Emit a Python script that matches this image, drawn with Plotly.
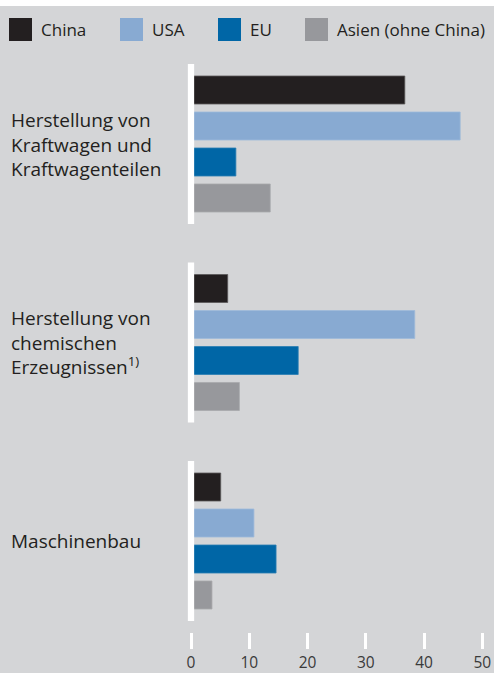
import plotly.graph_objects as go

# ---- data ----
categories = [
    "Herstellung von<br>Kraftwagen und<br>Kraftwagenteilen",
    "Herstellung von<br>chemischen<br>Erzeugnissen<sup>1)</sup>",
    "Maschinenbau",
]
series_names = ["China", "USA", "EU", "Asien (ohne China)"]
china = [36.7, 6.3, 5.1]
usa = [46.2, 38.4, 10.8]
eu = [7.7, 18.4, 14.6]
asien = [13.6, 8.3, 3.6]
x_ticks = [0, 10, 20, 30, 40, 50]

series_values = [china, usa, eu, asien]
colors = ["#231f20", "#88aad2", "#0066a6", "#97989c"]
outline = ["#5a5859", "#9dbadb", "#2a7db2", "#a8a9ac"]

W, H = 494, 673
L, R, T, B = 185, 0, 60, 41
PW, PH = W - L - R, H - T - B
BG = "#d4d5d7"
TXT = "#231f20"
FONT = "Open Sans, Noto Sans, sans-serif"


def px_x(p):
    return (p - L) / PW


def px_y(p):
    return (H - B - p) / PH


fig = go.Figure()
for name, vals, c, oc in zip(series_names, series_values, colors, outline):
    fig.add_trace(go.Bar(
        name=name, y=categories, x=vals, orientation="h",
        marker=dict(color=c, line=dict(color=oc, width=0.8)),
        showlegend=False,
    ))

shapes = []
# top white strip
shapes.append(dict(type="rect", xref="paper", yref="paper",
                   x0=px_x(0), x1=px_x(W), y0=px_y(6), y1=px_y(0),
                   fillcolor="white", line=dict(width=0), layer="below"))
# white axis segments per group
for i in range(len(categories)):
    shapes.append(dict(type="line", xref="x", yref="y",
                       x0=0, x1=0, y0=i - 0.403, y1=i + 0.403,
                       line=dict(color="white", width=6.3), layer="above"))

annotations = []
# legend (manual)
leg_sq_x = [9, 120, 218, 305]
for name, c, sx in zip(series_names, colors, leg_sq_x):
    shapes.append(dict(type="rect", xref="paper", yref="paper",
                       x0=px_x(sx), x1=px_x(sx + 23), y0=px_y(41), y1=px_y(18),
                       fillcolor=c, line=dict(width=0)))
    annotations.append(dict(xref="paper", yref="paper", x=px_x(sx + 30), y=px_y(29.5),
                            xanchor="left", yanchor="middle", showarrow=False,
                            text=name, font=dict(family=FONT, size=17, color=TXT)))

# category labels
for cat in categories:
    annotations.append(dict(xref="paper", yref="y", x=px_x(9), y=cat,
                            xanchor="left", yanchor="middle", align="left",
                            showarrow=False, text=cat,
                            font=dict(family=FONT, size=19, color=TXT)))

fig.update_layout(
    width=W, height=H,
    margin=dict(l=L, r=R, t=T, b=B, pad=0),
    paper_bgcolor=BG, plot_bgcolor=BG,
    barmode="group", bargap=0.2746, bargroupgap=0.222,
    shapes=shapes, annotations=annotations,
    font=dict(family=FONT, color=TXT),
)
fig.update_xaxes(range=[-(191 - L) / 5.826, (W - R - 191) / 5.826],
                 tickvals=x_ticks, ticktext=[str(t) for t in x_ticks],
                 ticks="outside", ticklen=16, tickwidth=3, tickcolor="white",
                 showgrid=False, zeroline=False, showline=False,
                 tickfont=dict(family=FONT, size=15.5, color="#3a3a3a"))
fig.update_yaxes(type="category", categoryorder="array", categoryarray=categories,
                 range=[(632 - 144) / 198.5, (60 - 144) / 198.5],
                 showticklabels=False, showgrid=False, zeroline=False,
                 showline=False, ticks="")

fig.write_html("out.html", config={"displayModeBar": False},
               post_script="document.body.style.margin='0';document.body.style.overflow='hidden';")
